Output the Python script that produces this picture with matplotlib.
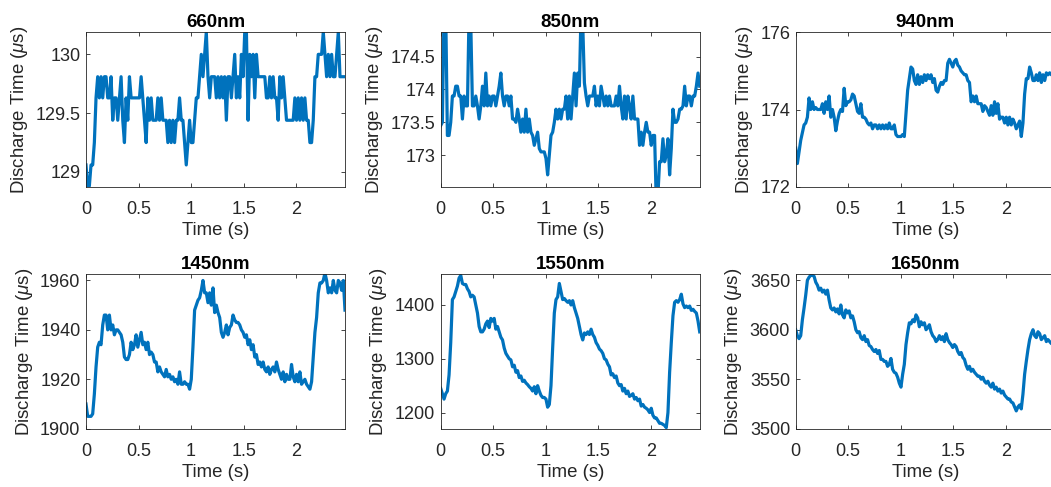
import matplotlib
matplotlib.use("Agg")
import matplotlib.pyplot as plt
import numpy as np
from matplotlib.ticker import FuncFormatter

plt.rcParams['font.family'] = ['Liberation Sans', 'DejaVu Sans']
plt.rcParams['mathtext.fontset'] = 'custom'
plt.rcParams['mathtext.rm'] = 'Liberation Sans'
plt.rcParams['mathtext.it'] = 'Liberation Sans:italic'

# ---------------- data ----------------
titles = ["660nm", "850nm", "940nm", "1450nm", "1550nm", "1650nm"]
dt = 0.0159  # sampling interval (s)

y660 = [129.06,128.88,128.88,129.06,129.06,129.25,129.63,129.81,129.63,129.81,
        129.63,129.81,129.81,129.63,129.63,129.81,129.44,129.63,129.63,129.44,
        129.63,129.81,129.44,129.25,129.63,129.44,129.81,129.63,129.63,129.63,
        129.63,129.63,129.63,129.81,129.63,129.44,129.25,129.63,129.44,129.63,
        129.44,129.44,129.44,129.63,129.44,129.63,129.44,129.44,129.44,129.25,
        129.44,129.25,129.44,129.25,129.44,129.44,129.63,129.44,129.44,129.25,
        129.06,129.25,129.44,129.25,129.25,129.44,129.63,129.63,129.81,130.0,
        129.81,130.0,130.19,129.81,129.63,129.81,129.81,129.81,129.63,129.81,
        129.63,129.81,129.63,129.81,129.44,129.81,129.81,129.63,129.81,130.0,
        129.63,129.81,129.63,130.0,129.81,130.19,130.19,129.44,130.0,129.81,
        130.0,129.63,130.0,129.81,129.81,129.81,129.81,129.81,129.63,129.63,
        129.81,129.63,129.81,129.63,129.63,129.44,129.81,129.63,129.81,129.63,
        129.44,129.44,129.44,129.44,129.44,129.63,129.44,129.63,129.44,129.63,
        129.44,129.63,129.44,129.44,129.25,129.25,129.44,129.81,129.81,130.0,
        130.0,130.0,130.19,130.0,129.81,130.0,129.81,130.0,129.81,129.81,
        130.0,130.19,129.81,129.81,129.81,129.81]

y850 = [173.45,173.5,175.2,175.2,173.3,173.3,173.5,173.9,173.9,174.05,
        174.05,173.9,173.9,173.55,173.9,173.75,173.75,175.2,175.0,173.75,
        173.75,173.9,173.75,173.55,173.75,174.05,173.75,174.25,173.75,173.9,
        173.75,173.9,173.9,173.75,173.9,174.05,174.25,173.9,173.75,173.9,
        173.9,173.75,173.9,173.55,173.55,173.5,173.7,173.55,173.35,173.55,
        173.35,173.7,173.35,173.55,173.35,173.3,173.15,173.25,173.35,173.1,
        173.05,173.05,173.05,172.95,172.7,173.0,173.3,173.35,173.5,173.7,
        173.55,173.7,173.55,173.7,173.7,173.9,173.55,173.9,173.55,173.9,
        174.25,173.75,174.25,174.05,175.2,175.0,174.1,173.9,173.75,173.9,
        173.9,173.9,174.05,173.75,173.9,173.75,174.05,173.9,173.75,173.9,
        173.75,173.9,173.75,173.75,173.75,173.9,173.75,174.05,173.75,173.55,
        173.9,173.55,173.9,173.75,173.55,173.9,173.55,173.55,173.55,173.15,
        173.35,173.15,173.35,173.5,173.35,173.35,173.15,173.3,173.3,172.3,
        172.4,172.9,172.9,173.25,172.9,173.0,173.25,172.7,173.1,173.7,
        173.5,173.5,173.55,173.7,173.7,173.75,174.05,173.75,173.9,173.9,
        173.75,173.9,173.9,174.05,174.25,174.05]

y940 = [173.0,172.6,172.9,173.2,173.4,173.6,173.65,173.8,174.3,174.0,
        174.2,174.0,174.05,174.0,174.0,174.0,174.15,173.9,174.2,174.0,
        174.35,173.8,174.0,173.8,173.45,173.7,173.9,174.0,173.95,174.55,
        174.1,174.2,174.2,174.25,174.4,174.35,174.15,173.95,173.9,174.15,
        173.8,173.8,173.75,173.65,173.6,173.65,173.5,173.6,173.6,173.5,
        173.6,173.5,173.6,173.5,173.6,173.5,173.65,173.5,173.5,173.6,
        173.35,173.3,173.3,173.3,173.35,173.3,173.9,174.5,174.8,175.1,
        175.05,174.75,174.65,174.9,174.65,174.85,174.7,174.9,174.75,174.9,
        174.8,174.9,174.7,174.8,174.5,174.45,174.6,174.7,174.65,174.75,
        174.75,175.2,175.3,175.2,175.1,175.25,175.3,175.15,175.1,175.0,
        174.95,174.9,174.9,174.75,174.7,174.2,174.35,174.2,174.35,174.15,
        174.15,174.15,173.95,174.1,174.05,173.95,173.85,174.1,173.85,174.2,
        173.9,174.15,173.75,173.8,173.8,173.65,173.8,173.6,173.8,173.6,
        173.75,173.65,173.5,173.6,173.7,173.3,173.65,174.4,174.8,174.8,
        175.1,174.95,174.75,174.75,174.9,174.75,174.95,174.7,174.9,174.75,
        174.95,174.9,174.95,174.9,174.95,174.9]

y1450 = [1910,1905,1905,1905,1906,1914,1925,1933,1935,1934,
         1942,1946,1946,1940,1946,1940,1942,1938,1940,1940,
         1939,1938,1935,1929,1928,1928,1930,1935,1932,1934,
         1938,1933,1936,1939,1934,1935,1932,1935,1930,1931,
         1930,1927,1927,1923,1925,1923,1922,1921,1924,1921,
         1922,1920,1921,1919,1920,1918,1923,1918,1918,1919,
         1918,1918,1916,1920,1933,1948,1950,1952,1953,1956,
         1960,1955,1955,1951,1955,1950,1957,1947,1950,1947,
         1945,1939,1937,1939,1942,1938,1941,1942,1946,1944,
         1943,1943,1942,1940,1939,1937,1938,1934,1936,1932,
         1934,1929,1930,1926,1927,1925,1927,1924,1923,1925,
         1922,1924,1925,1923,1927,1924,1922,1920,1923,1919,
         1922,1920,1920,1926,1921,1919,1922,1919,1923,1918,
         1919,1920,1918,1917,1916,1919,1929,1939,1945,1955,
         1959,1959,1960,1963,1960,1955,1957,1955,1960,1956,
         1955,1960,1959,1956,1960,1948]

y1550 = [1245,1235,1225,1235,1240,1270,1330,1410,1415,1425,
         1435,1450,1455,1440,1438,1438,1430,1425,1415,1418,
         1415,1400,1385,1360,1350,1350,1355,1365,1370,1358,
         1375,1370,1375,1355,1360,1350,1340,1335,1320,1310,
         1305,1300,1298,1285,1288,1275,1278,1265,1268,1258,
         1260,1255,1252,1248,1245,1240,1248,1235,1250,1240,
         1232,1228,1228,1225,1210,1215,1250,1320,1385,1410,
         1415,1440,1425,1410,1412,1408,1405,1408,1400,1408,
         1395,1385,1375,1360,1345,1335,1348,1345,1350,1345,
         1355,1345,1340,1330,1325,1318,1315,1310,1300,1298,
         1290,1285,1270,1272,1265,1268,1255,1250,1252,1240,
         1245,1235,1240,1230,1232,1235,1225,1228,1222,1225,
         1212,1215,1210,1208,1205,1200,1208,1195,1190,1190,
         1185,1180,1180,1178,1176,1172,1200,1275,1330,1380,
         1405,1408,1405,1410,1420,1402,1395,1398,1395,1398,
         1390,1392,1388,1385,1370,1350]

y1650 = [3600,3594,3591,3594,3610,3622,3635,3650,3653,3655,
         3655,3654,3648,3645,3640,3642,3638,3640,3636,3640,
         3630,3622,3620,3622,3618,3621,3616,3625,3615,3612,
         3620,3617,3619,3612,3614,3608,3600,3597,3598,3592,
         3590,3594,3588,3590,3584,3583,3580,3578,3580,3576,
         3579,3570,3570,3568,3568,3563,3565,3571,3560,3557,
         3556,3552,3546,3542,3555,3565,3585,3597,3607,3606,
         3610,3608,3615,3612,3603,3608,3605,3607,3600,3602,
         3605,3598,3594,3592,3588,3590,3594,3590,3593,3588,
         3596,3590,3587,3585,3582,3585,3583,3578,3575,3577,
         3572,3570,3564,3560,3563,3558,3560,3557,3555,3553,
         3553,3550,3552,3548,3546,3548,3544,3542,3546,3540,
         3542,3538,3540,3536,3538,3534,3532,3530,3530,3527,
         3526,3522,3518,3522,3524,3520,3535,3555,3568,3580,
         3590,3596,3600,3594,3592,3598,3596,3590,3592,3594,
         3588,3590,3588,3586,3588,3588]

series = [y660, y850, y940, y1450, y1550, y1650]
ylims = [(128.875, 130.1875), (172.52, 174.87), (172, 176),
         (1900, 1962.5), (1170, 1457), (3500, 3656)]
yticks = [[129, 129.5, 130], [173, 173.5, 174, 174.5], [172, 174, 176],
          [1900, 1920, 1940, 1960], [1200, 1300, 1400], [3500, 3550, 3600, 3650]]
xticks = [0, 0.5, 1, 1.5, 2]
xlabel = "Time (s)"
ylabel = r"Discharge Time ($\mu$s)"

# ---------------- layout ----------------
W, H = 1051, 487
fig = plt.figure(figsize=(W / 100, H / 100), dpi=100)
lefts = [86, 440.7, 795.7]
tops = [32.3, 274.3]
aw, ah = 259, 154.4

text_col = '#262626'
for k in range(6):
    r, c = divmod(k, 3)
    ax = fig.add_axes([lefts[c] / W, 1 - (tops[r] + ah) / H, aw / W, ah / H])
    y = np.array(series[k], dtype=float)
    t = np.arange(len(y)) * dt
    ax.plot(t, y, color='#0072BD', lw=2.3, solid_joinstyle='round')
    ax.set_xlim(0, t[-1])
    ax.set_ylim(*ylims[k])
    ax.set_xticks(xticks)
    ax.set_yticks(yticks[k])
    fmt = FuncFormatter(lambda v, p: f"{v:g}")
    ax.xaxis.set_major_formatter(fmt)
    ax.yaxis.set_major_formatter(fmt)
    ax.tick_params(direction='in', length=2.6, width=0.6, top=True, right=True,
                   colors=text_col, labelsize=13)
    ax.tick_params(axis='x', pad=10)
    ax.tick_params(axis='y', pad=4)
    for s in ax.spines.values():
        s.set_color(text_col)
        s.set_linewidth(0.6)
    ax.set_title(titles[k], fontsize=13.5, fontweight='bold', color='black', pad=4)
    ax.set_xlabel(xlabel, fontsize=13.4, color=text_col, labelpad=3)
    ax.set_ylabel(ylabel, fontsize=13.4, color=text_col, labelpad=4)

fig.savefig("out.png", dpi=100)
